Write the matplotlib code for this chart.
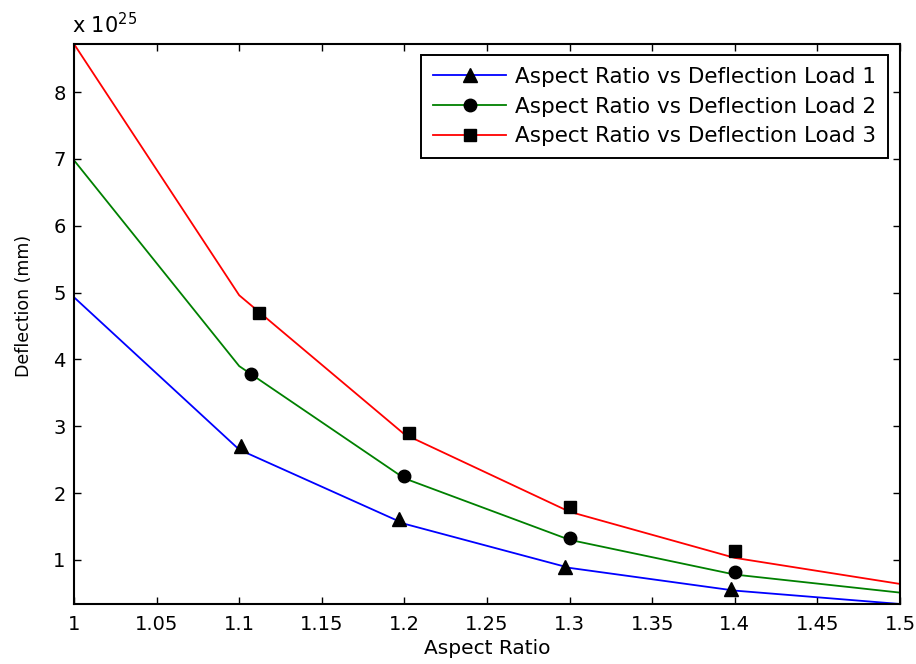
import matplotlib
matplotlib.use("Agg")
import matplotlib.pyplot as plt
from matplotlib.lines import Line2D

plt.rcParams['font.family'] = ['DejaVu Sans']

# line data (units of 1e25 mm)
x_line = [1.0, 1.1, 1.2, 1.3, 1.4, 1.5]
load1_line = [4.93, 2.65, 1.54, 0.88, 0.54, 0.34]
load2_line = [6.98, 3.90, 2.22, 1.30, 0.78, 0.51]
load3_line = [8.72, 4.96, 2.88, 1.72, 1.03, 0.64]

# marker data
load1_mx = [1.101, 1.197, 1.297, 1.398]
load1_my = [2.70, 1.61, 0.90, 0.57]
load2_mx = [1.107, 1.200, 1.300, 1.400]
load2_my = [3.78, 2.26, 1.33, 0.82]
load3_mx = [1.112, 1.203, 1.300, 1.400]
load3_my = [4.69, 2.90, 1.79, 1.13]

labels = ['Aspect Ratio vs Deflection Load 1',
          'Aspect Ratio vs Deflection Load 2',
          'Aspect Ratio vs Deflection Load 3']
xticks = [1, 1.05, 1.1, 1.15, 1.2, 1.25, 1.3, 1.35, 1.4, 1.45, 1.5]
xtick_labels = ['1', '1.05', '1.1', '1.15', '1.2', '1.25', '1.3', '1.35', '1.4', '1.45', '1.5']
yticks = [1, 2, 3, 4, 5, 6, 7, 8]

fig = plt.figure(figsize=(9.16, 6.64), dpi=100)
ax = fig.add_axes([0.0808, 0.0904, 0.9017, 0.8433])

colors = ['#0000ff', '#008000', '#ff0000']
markers = ['^', 'o', 's']
msizes = [9.5, 9, 9]
lines = [load1_line, load2_line, load3_line]
mxs = [load1_mx, load2_mx, load3_mx]
mys = [load1_my, load2_my, load3_my]

handles = []
for c, m, s, ly, mx, my, lab in zip(colors, markers, msizes, lines, mxs, mys, labels):
    ax.plot(x_line, ly, color=c, lw=1.3)
    ax.plot(mx, my, ls='none', marker=m, color='black', ms=s)
    handles.append(Line2D([0], [0], color=c, lw=1.3, marker=m,
                          markerfacecolor='black', markeredgecolor='black', ms=s))

ax.set_xlim(1, 1.5)
ax.set_ylim(0.34, 8.72)
ax.set_xticks(xticks)
ax.set_xticklabels(xtick_labels)
ax.set_yticks(yticks)
ax.tick_params(direction='in', top=True, right=True, labelsize=14, length=5,
               width=1, pad=6)
ax.tick_params(axis='x', pad=8)
for s in ax.spines.values():
    s.set_linewidth(1.5)

ax.set_xlabel('Aspect Ratio', fontsize=14.5)
ax.set_ylabel('Deflection (mm)', fontsize=12.5)
ax.yaxis.set_label_coords(-0.05, 0.532)
ax.xaxis.set_label_coords(0.5, -0.0625)
ax.text(-0.002, 1.012, r'x 10$^{25}$', transform=ax.transAxes, fontsize=15,
        ha='left', va='bottom')

leg = ax.legend(handles, labels, loc='upper right', fontsize=15.5,
                bbox_to_anchor=(0.9855, 0.9804), borderaxespad=0,
                fancybox=False, framealpha=1, edgecolor='black',
                handlelength=3.4, borderpad=0.55, labelspacing=0.45,
                handletextpad=0.4)
leg.get_frame().set_linewidth(1.4)

fig.savefig('out.png', dpi=100)
